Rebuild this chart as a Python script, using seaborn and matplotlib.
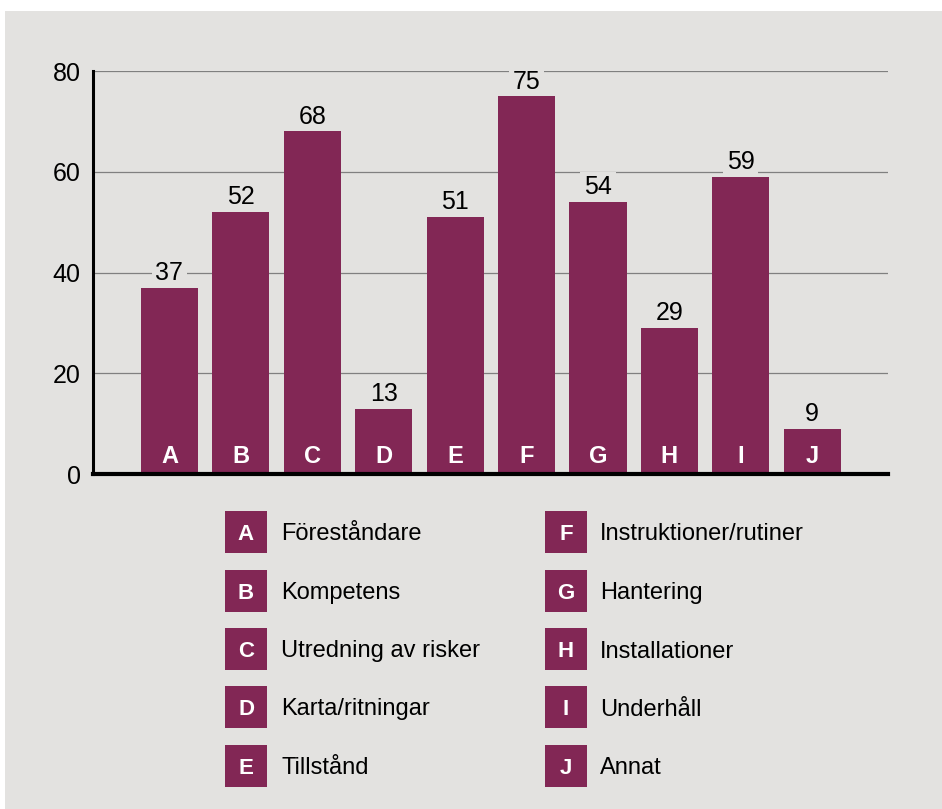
import matplotlib
matplotlib.use("Agg")
import matplotlib.pyplot as plt
from matplotlib.patches import Rectangle
import pandas as pd
import seaborn as sns

# Data
bokstaver = ['A', 'B', 'C', 'D', 'E', 'F', 'G', 'H', 'I', 'J']
antal = [37, 52, 68, 13, 51, 75, 54, 29, 59, 9]
beskrivningar = ['Föreståndare', 'Kompetens', 'Utredning av risker', 'Karta/ritningar',
                 'Tillstånd', 'Instruktioner/rutiner', 'Hantering', 'Installationer',
                 'Underhåll', 'Annat']
y_ticks = [0, 20, 40, 60, 80]

lila = '#822755'
bakgrund = '#e3e2e0'

sns.set_style('white')
plt.rcParams['font.family'] = ['Liberation Sans', 'DejaVu Sans']
plt.rcParams['text.color'] = 'black'
plt.rcParams['ytick.color'] = 'black'

W, H = 942, 809
fig = plt.figure(figsize=(W / 100, H / 100), dpi=100, facecolor='white')
fig.add_artist(Rectangle((5 / W, 0), 1 - 5 / W, 1 - 11 / H, transform=fig.transFigure,
                         facecolor=bakgrund, edgecolor='none', zorder=-1))

# Stapeldiagram
ax = fig.add_axes([93 / W, 1 - 474 / H, (888 - 93) / W, (474 - 71) / H])
ax.set_facecolor(bakgrund)
df = pd.DataFrame({'bokstav': bokstaver, 'antal': antal})
sns.barplot(data=df, x='bokstav', y='antal', color=lila, saturation=1, width=0.8,
            edgecolor='none', linewidth=0, ax=ax, zorder=2)

ax.set_ylim(0, 80)
ax.set_xlim(-1.07, 10.06)
ax.set_yticks(y_ticks)
ax.set_xticks([])
ax.set_xlabel('')
ax.set_ylabel('')
ax.yaxis.grid(True, color='#808080', lw=0.9)
ax.set_axisbelow(True)
ax.tick_params(axis='y', length=0, pad=9, labelsize=18, labelcolor='black')

for s in ['top', 'right']:
    ax.spines[s].set_visible(False)
ax.spines['left'].set_color('black')
ax.spines['left'].set_linewidth(2.2)
ax.spines['bottom'].set_color('black')
ax.spines['bottom'].set_linewidth(3)
ax.spines['bottom'].set_zorder(3)

# Värden ovanför staplarna och bokstäver i staplarna
for i, (b, v) in enumerate(zip(bokstaver, antal)):
    ax.annotate(str(v), (i, v), xytext=(0, 5.5), textcoords='offset points',
                ha='center', va='baseline', fontsize=18, color='black', zorder=1,
                bbox=dict(boxstyle='square,pad=0.15', fc=bakgrund, ec='none'))
    ax.annotate(b, (i, 0), xytext=(0, 8), textcoords='offset points',
                ha='center', va='baseline', fontsize=17, fontweight='bold',
                color='white', zorder=4)

# Förklaring
lax = fig.add_axes([0, 0, 1, 1])
lax.set_xlim(0, W)
lax.set_ylim(H, 0)
lax.axis('off')
rader = [532, 591, 649, 707, 766]
kol_ruta = [225, 545]
kol_text = [281, 600]
for k, (b, t) in enumerate(zip(bokstaver, beskrivningar)):
    c, r = k // 5, k % 5
    cy = rader[r]
    lax.add_patch(Rectangle((kol_ruta[c], cy - 21), 42, 42, facecolor=lila, edgecolor='none'))
    lax.text(kol_ruta[c] + 21, cy, b, ha='center', va='center_baseline', color='white',
             fontsize=16, fontweight='bold')
    lax.text(kol_text[c], cy, t, ha='left', va='center_baseline', fontsize=17, color='black')

fig.savefig('out.png', dpi=100)
